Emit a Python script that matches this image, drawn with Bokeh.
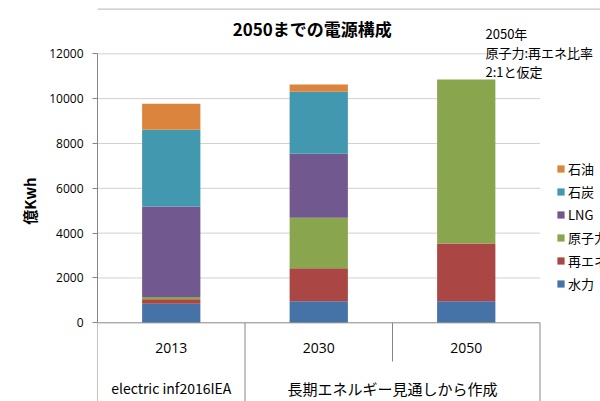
import numpy as np
from bokeh.plotting import figure
from bokeh.models import Range1d, ColumnDataSource, FixedTicker, Legend, LegendItem, Span, Label
from bokeh.core.properties import value
from bokeh.embed import file_html
from bokeh.resources import INLINE

# ---- data ----
title = "2050までの電源構成"
years = ["2013", "2030", "2050"]
groups = ["electric inf2016IEA", "長期エネルギー見通しから作成", "長期エネルギー見通しから作成"]
series = ["水力", "再エネ", "原子力", "LNG", "石炭", "石油"]
hydro = [850, 960, 960]
renew = [200, 1475, 2577]
nuclear = [100, 2250, 7315]
lng = [4040, 2855, 0]
coal = [3420, 2765, 0]
oil = [1160, 325, 0]
y_ticks = [0, 2000, 4000, 6000, 8000, 10000, 12000]
y_label = "億Kwh"
note_lines = ["2050年", "原子力:再エネ比率", "2:1と仮定"]
colors = ["#4572A7", "#AA4643", "#89A54E", "#71588F", "#4198AF", "#DB843D"]

# ---- layout (pixels) ----
W, H = 600, 401
LEFT = 97          # x of the value axis
CAT_PX = 147.5     # pixels per category
ZERO_PX = 322.3    # y of value 0
K = 269.0 / 12000  # pixels per unit

x_end = (W - LEFT) / CAT_PX
y_start = -(H - ZERO_PX) / K
y_end = ZERO_PX / K

def dx(px):
    return (px - LEFT) / CAT_PX

def dy(py):
    return (ZERO_PX - py) / K

JP = "Noto Sans CJK JP"

p = figure(width=W, height=H, x_range=Range1d(0, x_end), y_range=Range1d(y_start, y_end),
           output_backend="svg", toolbar_location=None, title=None,
           x_axis_location=None, y_axis_location="left",
           min_border_left=LEFT, min_border_right=0, min_border_top=0, min_border_bottom=0)
p.outline_line_color = None
p.grid.visible = False
p.background_fill_color = "white"
p.border_fill_color = "white"

n = len(years)
xc = np.arange(n) + 0.5
src = ColumnDataSource(dict(x=xc, 水力=hydro, 再エネ=renew, 原子力=nuclear, LNG=lng, 石炭=coal, 石油=oil))

# gridlines
gy = [t for t in y_ticks if t > 0]
p.segment(x0=[0] * len(gy), x1=[n] * len(gy), y0=gy, y1=gy, line_color="#d0d0d0", line_width=1)

# bars
rs = p.vbar_stack(series, x="x", width=0.395, color=colors, line_color=None, source=src)

# category axis line
p.segment(x0=[0], x1=[n], y0=[0], y1=[0], line_color="#868686", line_width=1)

# separators
xb = list(range(n + 1))
bottoms = []
for i in xb:
    if 0 < i < n and groups[i - 1] == groups[i]:
        bottoms.append(dy(361))
    else:
        bottoms.append(y_start)
p.segment(x0=xb, x1=xb, y0=[0] * len(xb), y1=bottoms, line_color="#868686", line_width=1)

# category labels
p.text(x=xc, y=[dy(347)] * n, text=years, text_align="center", text_baseline="middle",
       text_font=value("Open Sans"), text_font_size="14px", text_color="black")

# group labels
runs = []
start = 0
for i in range(1, n + 1):
    if i == n or groups[i] != groups[start]:
        runs.append((groups[start], start, i))
        start = i
gx = [(a + b) / 2 for _, a, b in runs]
gt = [g for g, _, _ in runs]
gf = ["14px" if g.isascii() else "15px" for g in gt]
gsrc = ColumnDataSource(dict(x=gx, y=[dy(387.5)] * len(gx), text=gt, fs=gf))
p.text(x="x", y="y", text="text", text_font_size="fs", source=gsrc, text_align="center",
       text_baseline="middle", text_font=value(JP), text_color="black")

# y axis
ax = p.yaxis[0]
ax.ticker = FixedTicker(ticks=y_ticks)
ax.bounds = (0, 12000)
ax.axis_line_color = "#868686"
ax.major_tick_line_color = "#868686"
ax.major_tick_out = 5
ax.major_tick_in = 0
ax.minor_tick_line_color = None
ax.major_label_text_font = "Open Sans"
ax.major_label_text_font_size = "12px"
ax.major_label_text_color = "black"
ax.major_label_standoff = 9
ax.axis_label = y_label
ax.axis_label_text_font = JP
ax.axis_label_text_font_size = "15px"
ax.axis_label_text_font_style = "bold"
ax.axis_label_text_color = "black"
ax.axis_label_standoff = 6

# title
p.add_layout(Label(x=dx(311.7), y=dy(28.3), text=title, text_align="center", text_baseline="middle",
                   text_font=JP, text_font_size="17px", text_font_style="bold", text_color="black"))

# note
p.text(x=[dx(485)] * len(note_lines), y=[dy(33.3), dy(51.9), dy(70.7)], text=note_lines,
       text_align="left", text_baseline="middle", text_font=value(JP), text_font_size="13px",
       text_color="black")

# chart border (top)
p.add_layout(Span(location=dy(8.6), dimension="width", line_color="#b4b4b4", line_width=1))

# legend
items = [LegendItem(label=s, renderers=[r]) for s, r in zip(series, rs)][::-1]
legend = Legend(items=items, location=(459, 108), border_line_color=None,
                background_fill_alpha=0, padding=0, margin=0, spacing=3,
                label_height=20, glyph_height=9, glyph_width=9, label_standoff=3,
                label_text_font=JP, label_text_font_size="13px", label_text_color="black")
p.add_layout(legend)

open("out.html", "w").write(file_html(p, INLINE))
